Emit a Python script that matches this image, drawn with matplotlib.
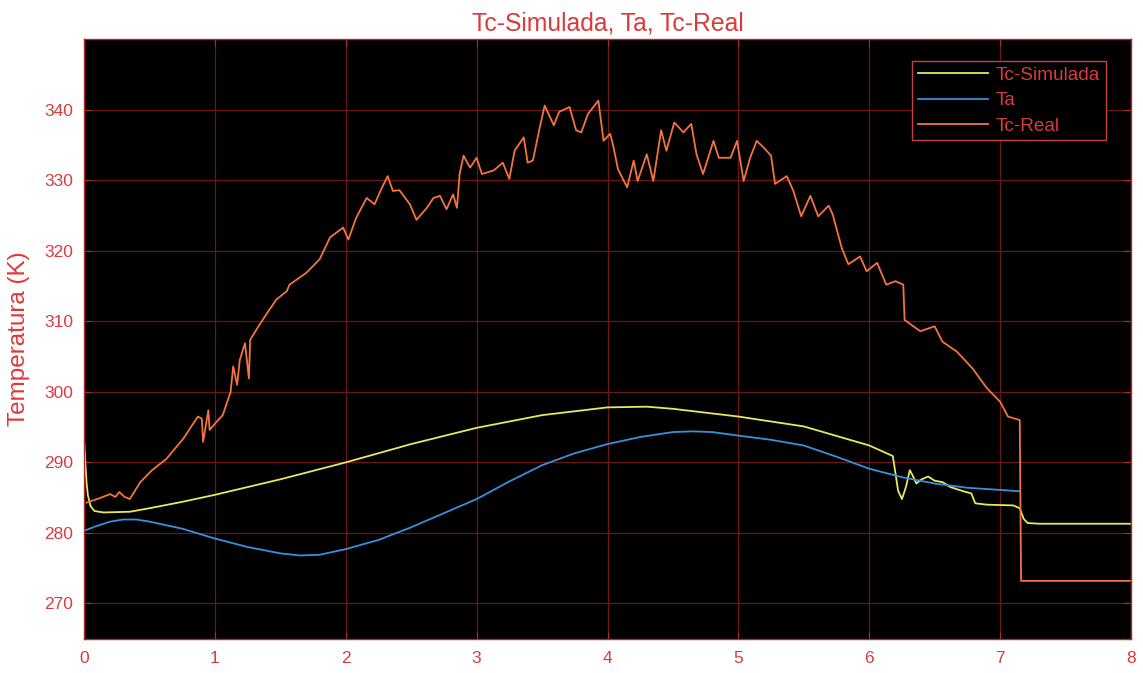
import matplotlib
matplotlib.use("Agg")
import matplotlib.pyplot as plt

plt.rcParams['font.family'] = ['Liberation Sans', 'DejaVu Sans']

# Simulated cover temperature
sim_t = [0.00, 0.01, 0.02, 0.03, 0.05, 0.08, 0.15, 0.35, 0.50, 0.75, 1.00, 1.50,
         2.00, 2.50, 3.00, 3.50, 4.00, 4.30, 4.50, 5.00, 5.50, 6.00, 6.18, 6.20,
         6.22, 6.25, 6.28, 6.31, 6.33, 6.36, 6.40, 6.45, 6.50, 6.56, 6.62, 6.72,
         6.78, 6.81, 6.90, 7.10, 7.15, 7.18, 7.21, 7.30, 8.00]
sim_T = [293.5, 290.0, 287.0, 285.3, 283.8, 283.1, 282.9, 283.0, 283.5, 284.4, 285.4, 287.6,
         290.0, 292.6, 294.9, 296.7, 297.8, 297.9, 297.6, 296.5, 295.1, 292.4, 290.9, 288.5,
         286.0, 284.8, 286.5, 288.9, 288.2, 287.0, 287.6, 288.0, 287.4, 287.2, 286.5, 285.9,
         285.6, 284.2, 284.0, 283.9, 283.5, 282.0, 281.4, 281.3, 281.3]

# Ambient temperature
amb_t = [0.00, 0.10, 0.20, 0.30, 0.40, 0.50, 0.75, 1.00, 1.25, 1.50, 1.65, 1.80,
         2.00, 2.25, 2.50, 2.75, 3.00, 3.25, 3.50, 3.75, 4.00, 4.25, 4.50, 4.65,
         4.80, 5.00, 5.25, 5.50, 5.75, 6.00, 6.25, 6.50, 6.75, 7.00, 7.15]
amb_T = [280.3, 281.0, 281.6, 281.9, 281.9, 281.6, 280.6, 279.2, 278.0, 277.1, 276.8, 276.9,
         277.7, 279.0, 280.8, 282.8, 284.8, 287.3, 289.6, 291.3, 292.6, 293.6, 294.3, 294.4,
         294.3, 293.8, 293.2, 292.4, 290.8, 289.1, 287.9, 287.0, 286.4, 286.1, 285.9]

# Measured cover temperature
real_t = [0.02, 0.10, 0.20, 0.24, 0.27, 0.31, 0.35, 0.43, 0.52, 0.63, 0.76, 0.87,
          0.90, 0.91, 0.95, 0.96, 1.01, 1.06, 1.12, 1.14, 1.17, 1.19, 1.23, 1.26,
          1.27, 1.34, 1.40, 1.47, 1.55, 1.57, 1.70, 1.80, 1.88, 1.98, 2.02, 2.08,
          2.16, 2.22, 2.27, 2.32, 2.36, 2.41, 2.49, 2.54, 2.62, 2.67, 2.72, 2.77,
          2.82, 2.85, 2.87, 2.90, 2.95, 3.00, 3.04, 3.13, 3.20, 3.25, 3.29, 3.36,
          3.39, 3.43, 3.48, 3.52, 3.59, 3.63, 3.71, 3.76, 3.80, 3.85, 3.93, 3.97,
          4.02, 4.04, 4.08, 4.15, 4.20, 4.23, 4.30, 4.35, 4.41, 4.45, 4.51, 4.58,
          4.64, 4.68, 4.73, 4.81, 4.85, 4.94, 4.99, 5.04, 5.09, 5.14, 5.19, 5.25,
          5.28, 5.37, 5.42, 5.48, 5.55, 5.61, 5.69, 5.72, 5.79, 5.84, 5.93, 5.98,
          6.06, 6.13, 6.20, 6.26, 6.27, 6.39, 6.50, 6.56, 6.67, 6.79, 6.90, 7.00,
          7.06, 7.15, 7.16, 8.00]
real_T = [284.3, 284.8, 285.5, 285.1, 285.8, 285.1, 284.8, 287.2, 288.9, 290.5, 293.4, 296.5,
          296.2, 292.9, 297.4, 294.6, 295.7, 296.7, 300.0, 303.6, 301.0, 304.5, 306.9, 301.9,
          307.4, 309.5, 311.2, 313.1, 314.3, 315.2, 316.9, 318.8, 321.9, 323.3, 321.6, 324.7,
          327.5, 326.6, 328.7, 330.6, 328.5, 328.6, 326.6, 324.4, 326.1, 327.5, 327.8, 325.9,
          328.0, 326.1, 330.9, 333.5, 331.8, 333.2, 330.9, 331.4, 332.5, 330.2, 334.2, 336.1,
          332.5, 332.8, 337.3, 340.6, 337.8, 339.7, 340.4, 337.1, 336.8, 339.4, 341.3, 335.6,
          336.6, 335.2, 331.6, 329.0, 332.8, 329.9, 333.7, 329.9, 337.1, 334.2, 338.2, 336.8,
          338.0, 333.7, 330.9, 335.6, 333.2, 333.2, 335.6, 329.9, 333.2, 335.6, 334.7, 333.5,
          329.5, 330.6, 328.5, 324.9, 327.8, 324.9, 326.4, 325.2, 320.4, 318.1, 319.2, 317.1,
          318.3, 315.2, 315.7, 315.2, 310.2, 308.6, 309.3, 307.1, 305.7, 303.3, 300.5, 298.6,
          296.5, 296.0, 273.2, 273.2]

x_ticks = [0, 1, 2, 3, 4, 5, 6, 7, 8]
y_ticks = [270, 280, 290, 300, 310, 320, 330, 340]

RED_TXT = '#d83c3c'
EDGE = '#b02a2a'
GRID = '#6e1616'

fig = plt.figure(figsize=(11.43, 6.73), dpi=100, facecolor='white')
ax = fig.add_axes([0.0735, 0.051, 0.916, 0.8906])
ax.set_facecolor('black')

ax.plot(sim_t, sim_T, color='#e8e85a', lw=1.3, label='Tc-Simulada')
ax.plot(amb_t, amb_T, color='#3a8fdc', lw=1.3, label='Ta')
ax.plot(real_t, real_T, color='#f5733f', lw=1.3, label='Tc-Real')

ax.set_xlim(0, 8)
ax.set_ylim(265, 350)
ax.set_xticks(x_ticks)
ax.set_yticks(y_ticks)
ax.grid(True, color=GRID, lw=0.9)
ax.set_axisbelow(True)
for s in ax.spines.values():
    s.set_color(EDGE)
    s.set_linewidth(1.0)
ax.tick_params(axis='both', colors=EDGE, labelcolor=RED_TXT, labelsize=12.5,
               direction='in', length=5, top=True, right=True)
ax.tick_params(axis='x', pad=9)
ax.tick_params(axis='y', pad=8)

ax.set_title('Tc-Simulada, Ta, Tc-Real', color=RED_TXT, fontsize=17.8, pad=6)
ax.set_ylabel('Temperatura (K)', color='#e03838', fontsize=17.5, labelpad=10)

leg = ax.legend(loc='upper right', bbox_to_anchor=(0.976, 0.964), borderaxespad=0,
                fontsize=13.7, frameon=True, fancybox=False, handlelength=3.7,
                handletextpad=0.4, borderpad=0.3, labelspacing=0.42)
leg.get_frame().set_facecolor('black')
leg.get_frame().set_edgecolor('#c84040')
leg.get_frame().set_linewidth(1.0)
leg.get_frame().set_alpha(1)
for t in leg.get_texts():
    t.set_color(RED_TXT)

fig.savefig('out.png', dpi=100, facecolor='white')
